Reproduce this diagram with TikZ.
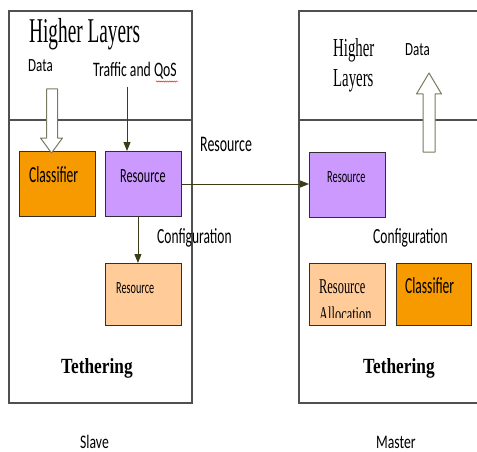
\documentclass[tikz,border=0pt]{standalone}
\usepackage{fontspec}
\setmainfont{Liberation Serif}
\newfontfamily\calfont{Carlito}
\usepackage{graphicx}
\usetikzlibrary{arrows.meta,decorations.pathmorphing}

\definecolor{framegray}{HTML}{505050}
\definecolor{boxedge}{HTML}{303030}
\definecolor{olive}{HTML}{3C3C18}
\definecolor{hollowedge}{HTML}{7A7A62}
\definecolor{clsorange}{HTML}{F79A00}
\definecolor{respurple}{HTML}{CC99FF}
\definecolor{respeach}{HTML}{FFCC99}

% vertically stretched text
\newcommand\tallbox[2]{\scalebox{1}[#1]{#2}}

\tikzset{
  frame/.style={draw=framegray, line width=1.2pt},
  unitbox/.style={draw=boxedge, line width=0.9pt, anchor=north west,
                  minimum width=76pt, minimum height=65pt, inner sep=0pt},
  lbl/.style={anchor=base west, inner sep=0pt, text=black},
  flow/.style={draw=olive, line width=0.9pt,
               -{Triangle[length=9pt,width=7pt]}},
  hollow/.style={draw=hollowedge, line width=1pt, fill=white, line join=round},
}

\begin{document}
\begin{tikzpicture}[x=1pt,y=-1pt]
\useasboundingbox (0,0) rectangle (477,452);
\clip (0,0) rectangle (477,452);

% ---------------- Slave side ----------------
\draw[frame] (9,11) rectangle (192,403);
\draw[frame] (9,120) -- (192,120);

\node[lbl] (shl) at (29,43) {\tallbox{1.8}{\fontsize{19.3pt}{20pt}\selectfont Higher Layers}};
\node[lbl] (sdata) at (28,72) {\tallbox{1.43}{\calfont\fontsize{13pt}{14pt}\selectfont Data}};
\node[lbl] (straffic) at (93,77) {\tallbox{1.5}{\calfont\fontsize{13.7pt}{14pt}\selectfont Traffic and QoS}};
\draw[red, line width=0.45pt, decorate,
      decoration={snake, segment length=2.2pt, amplitude=0.6pt}] (156,81.5) -- (178,81.5);
\coordinate (trafftop) at (127,87);

\node[unitbox, fill=clsorange] (scls) at (19,151) {};
\node[unitbox, fill=respurple] (sres) at (105,151) {};
\node[unitbox, fill=respeach, minimum height=62pt] (sres2) at (105,263) {};

\node[lbl] at (29,182) {\tallbox{1.7}{\calfont\fontsize{13.5pt}{14pt}\selectfont Classifier}};
\node[lbl] at (120,182) {\tallbox{1.65}{\calfont\fontsize{12.2pt}{13pt}\selectfont Resource}};
\node[lbl] at (116,293) {\tallbox{1.67}{\calfont\fontsize{10.2pt}{11pt}\selectfont Resource}};

% Data enters the classifier
\draw[hollow] (46.5,89) -- (57.5,89) -- (57.5,138) -- (62.5,138) -- (51.5,153)
  -- (40.5,138) -- (46.5,138) -- cycle;

% Traffic and QoS into the resource block
\draw[flow] (trafftop) -- (trafftop |- sres.north);
\draw[flow] ([xshift=-5.5pt]sres.south) -- ([xshift=-5.5pt]sres2.north);

\node[lbl] at (157,243) {\tallbox{1.6}{\calfont\fontsize{13.5pt}{14pt}\selectfont Configuration}};

\node[lbl] at (61,373) {\tallbox{1.25}{\bfseries\fontsize{17.3pt}{18pt}\selectfont Tethering}};
\node[lbl] at (80,448) {\tallbox{1.4}{\calfont\fontsize{13.7pt}{14pt}\selectfont Slave}};

% ---------------- Master side ----------------
\draw[frame] (299,11) rectangle (480,403);
\draw[frame] (299,120) -- (480,120);

\node[lbl] at (333,57) {\tallbox{1.75}{\fontsize{14.8pt}{15pt}\selectfont Higher}};
\node[lbl] at (333,87) {\tallbox{1.75}{\fontsize{14.8pt}{15pt}\selectfont Layers}};
\node[lbl] at (405,56) {\tallbox{1.43}{\calfont\fontsize{13pt}{14pt}\selectfont Data}};

\node[unitbox, fill=respurple] (mres) at (309,152) {};
\node[unitbox, fill=respeach, minimum height=62pt] (malloc) at (309,263) {};
\node[unitbox, fill=clsorange, minimum width=75pt, minimum height=62pt] (mcls) at (396,263) {};

\node[lbl] at (327,182) {\tallbox{1.67}{\calfont\fontsize{10.3pt}{11pt}\selectfont Resource}};
% the second text line is cut off by the text frame
\begin{scope}
  \clip (309,263) rectangle (385,317);
  \node[lbl] at (319,293) {\tallbox{1.7}{\fontsize{12.4pt}{13pt}\selectfont Resource}};
  \node[lbl] at (319,321.5) {\tallbox{1.7}{\fontsize{12.4pt}{13pt}\selectfont Allocation}};
\end{scope}
\node[lbl] at (405,293) {\tallbox{1.7}{\calfont\fontsize{13.5pt}{14pt}\selectfont Classifier}};

% Data leaves towards the higher layers
\draw[hollow] (429,73) -- (441.5,94) -- (435,94) -- (435,152) -- (423,152)
  -- (423,94) -- (416.5,94) -- cycle;

\node[lbl] at (373,243) {\tallbox{1.6}{\calfont\fontsize{13.5pt}{14pt}\selectfont Configuration}};

\node[lbl] at (363,373) {\tallbox{1.25}{\bfseries\fontsize{17.3pt}{18pt}\selectfont Tethering}};
\node[lbl] at (376,448) {\tallbox{1.4}{\calfont\fontsize{13.7pt}{14pt}\selectfont Master}};

% ---------------- Slave to master ----------------
\draw[flow] (sres.east |- 0,184) -- (mres.west |- 0,184);
\node[lbl] at (200,151) {\tallbox{1.6}{\calfont\fontsize{13.9pt}{14pt}\selectfont Resource}};

\end{tikzpicture}
\end{document}
